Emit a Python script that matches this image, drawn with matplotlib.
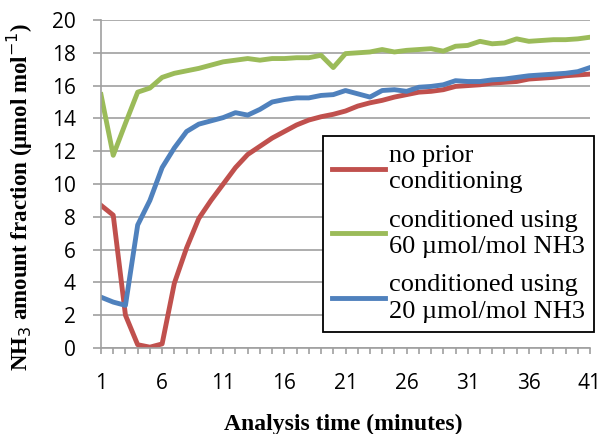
import numpy as np
import matplotlib
matplotlib.use("Agg")
from matplotlib import pyplot as plt

minutes = list(range(1, 42))

no_prior = [8.7, 8.1, 2.0, 0.2, 0.05, 0.25, 3.95, 6.1, 7.9, 9.0,
            10.0, 11.0, 11.8, 12.3, 12.8, 13.2, 13.6, 13.9, 14.1, 14.25,
            14.45, 14.75, 14.95, 15.1, 15.3, 15.45, 15.6, 15.65, 15.75, 15.95,
            16.0, 16.05, 16.15, 16.2, 16.25, 16.4, 16.45, 16.5, 16.6, 16.65, 16.7]

cond_60 = [15.45, 11.75, 13.7, 15.6, 15.85, 16.5, 16.75, 16.9, 17.05, 17.25,
           17.45, 17.55, 17.65, 17.55, 17.65, 17.65, 17.7, 17.7, 17.85, 17.1,
           17.95, 18.0, 18.05, 18.2, 18.05, 18.15, 18.2, 18.25, 18.1, 18.4,
           18.45, 18.7, 18.55, 18.6, 18.85, 18.7, 18.75, 18.8, 18.8, 18.85, 18.95]

cond_20 = [3.1, 2.8, 2.6, 7.5, 9.0, 11.0, 12.2, 13.2, 13.65, 13.85,
           14.05, 14.35, 14.2, 14.55, 15.0, 15.15, 15.25, 15.25, 15.4, 15.45,
           15.7, 15.5, 15.3, 15.7, 15.75, 15.65, 15.9, 15.95, 16.05, 16.3,
           16.25, 16.25, 16.35, 16.4, 16.5, 16.6, 16.65, 16.7, 16.75, 16.85, 17.1]

labels = ["no prior\nconditioning",
          "conditioned using\n60 \u00b5mol/mol NH3",
          "conditioned using\n20 \u00b5mol/mol NH3"]

fig = plt.figure(figsize=(6.03, 4.34), dpi=100)
ax = fig.add_axes([101 / 603, 86 / 434, 489 / 603, 328 / 434])

ax.plot(minutes, no_prior, color="#C0504D", lw=3.5, label=labels[0], solid_joinstyle="round")
ax.plot(minutes, cond_60, color="#9BBB59", lw=3.5, label=labels[1], solid_joinstyle="round")
ax.plot(minutes, cond_20, color="#4F81BD", lw=3.5, label=labels[2], solid_joinstyle="round")

ax.set_xlim(1, 41)
ax.set_ylim(0, 20)
ax.set_yticks(np.arange(0, 21, 2))
ax.set_xticks(minutes)
ax.set_xticklabels([str(m) if (m - 1) % 5 == 0 else "" for m in minutes])
ax.grid(axis="y", color="#a0a0a0", lw=1.2)
ax.set_axisbelow(True)

for s in ["top", "right"]:
    ax.spines[s].set_visible(False)
for s in ["left", "bottom"]:
    ax.spines[s].set_color("#a0a0a0")
    ax.spines[s].set_linewidth(1.2)

ax.tick_params(axis="y", length=6, color="#a0a0a0", width=1.2, pad=12, labelsize=15)
ax.tick_params(axis="x", length=4, color="#a0a0a0", width=1.2, pad=14, labelsize=15)
for t in ax.get_xticklabels() + ax.get_yticklabels():
    t.set_family("Open Sans")

ax.set_ylabel("NH$_3$ amount fraction (\u00b5mol mol$^{-1}$)", family="Liberation Serif",
              fontweight="bold", fontsize=16.5)
ax.yaxis.set_label_coords(-0.135, 0.462)
ax.set_xlabel("Analysis time (minutes)", family="Liberation Serif",
              fontweight="bold", fontsize=17)
ax.xaxis.set_label_coords(0.495, -0.2)

leg = ax.legend(loc="upper left", bbox_to_anchor=(323 / 603, 1 - 136 / 434),
                bbox_transform=fig.transFigure, borderaxespad=0, fancybox=False,
                framealpha=1, edgecolor="black", handlelength=2.0, handletextpad=0.15,
                labelspacing=0.62, borderpad=0.35,
                prop={"family": "Liberation Serif", "size": 19})
leg.get_frame().set_linewidth(1.3)
for t in leg.get_texts():
    t.set_linespacing(1.25)

fig.savefig("out.png", dpi=100)
